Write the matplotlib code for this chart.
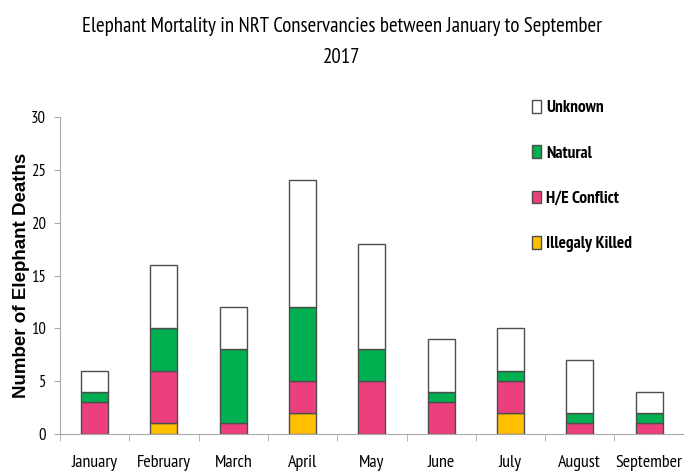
import matplotlib as mpl
import numpy as np
import matplotlib.pyplot as plt

mpl.rcParams['figure.dpi'] = 100

# ----- Data -----
months = ["January", "February", "March", "April", "May",
          "June", "July", "August", "September"]
illegally_killed = [0, 1, 0, 2, 0, 0, 2, 0, 0]
he_conflict = [3, 5, 1, 3, 5, 3, 3, 1, 1]
natural = [1, 4, 7, 7, 3, 1, 1, 1, 1]
unknown = [2, 6, 4, 12, 10, 5, 4, 5, 2]

narrow = ["PT Sans Narrow", "DejaVu Sans"]

# ----- Graphing Code -----
fig = plt.figure(figsize=(6.84, 4.73))
ax = fig.add_axes([0.0877, 0.0825, 0.912, 0.670])

x = np.arange(len(months))
width = 0.39
edge = "#4d4d4d"

series = [
    ("Illegaly Killed", illegally_killed, "#FFC000"),
    ("H/E Conflict", he_conflict, "#EC407E"),
    ("Natural", natural, "#00B050"),
    ("Unknown", unknown, "#FFFFFF"),
]

bottom = np.zeros(len(months))
handles = []
for label, vals, color in series:
    b = ax.bar(x, vals, width, bottom=bottom, color=color,
               edgecolor=edge, linewidth=1.0, label=label)
    handles.append(b)
    bottom += np.array(vals)

ax.set_xlim(-0.5, len(months) - 0.5)
ax.set_ylim(0, 30)
ax.set_yticks(range(0, 31, 5))

ax.set_xticks(x)
ax.set_xticklabels(months, fontfamily=narrow, fontsize=13)
ax.set_xticks(np.arange(-0.5, len(months), 1), minor=True)
ax.tick_params(axis="x", which="major", length=0, pad=15)
ax.tick_params(axis="x", which="minor", length=5, color="#aaaaaa", direction="out")
ax.tick_params(axis="y", length=4, color="#aaaaaa", labelsize=12, pad=6)
for t in ax.get_yticklabels():
    t.set_fontfamily(narrow)

for s in ["top", "right"]:
    ax.spines[s].set_visible(False)
ax.spines["left"].set_color("#aaaaaa")
ax.spines["bottom"].set_color("#aaaaaa")

ax.set_ylabel("Number of Elephant Deaths", fontsize=13.5, fontweight="bold",
              fontfamily="Liberation Sans", labelpad=1)

fig.text(0.5, 0.911,
         "Elephant Mortality in NRT Conservancies between January to September\n2017",
         ha="center", va="center", fontfamily=narrow, fontsize=15, linespacing=1.8)

fig.legend(handles[::-1], [s[0] for s in series][::-1],
           loc="upper left", bbox_to_anchor=(0.755, 0.822),
           frameon=False, prop={"family": narrow, "size": 12.5, "weight": "bold"},
           handlelength=0.52, handleheight=0.75, handletextpad=0.3,
           labelspacing=1.67)

plt.savefig("out.png")
